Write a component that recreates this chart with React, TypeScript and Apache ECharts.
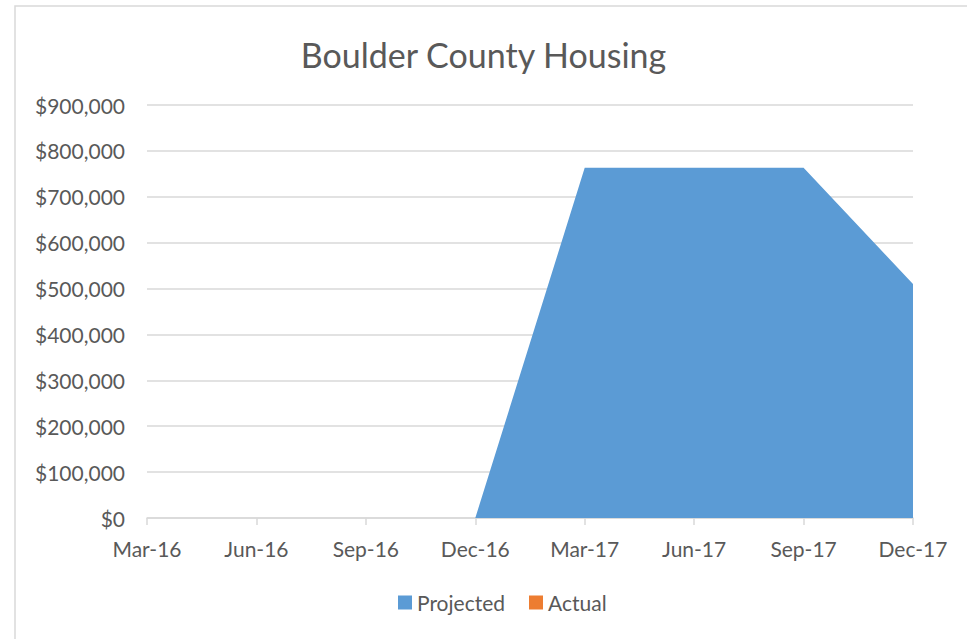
import React, { useEffect, useRef } from "react";
import * as echarts from "echarts";

const categories = ["Mar-16", "Jun-16", "Sep-16", "Dec-16", "Mar-17", "Jun-17", "Sep-17", "Dec-17"];
const projected = [0, 0, 0, 0, 763000, 763000, 763000, 510000];
const actual: (number | null)[] = [null, null, null, null, null, null, null, null];
const yTicks = { min: 0, max: 900000, interval: 100000 };

const FONT = "Lato, 'Open Sans', sans-serif";

export default function App() {
  const ref = useRef<HTMLDivElement>(null);
  useEffect(() => {
    const chart = echarts.init(ref.current!, null, { renderer: "svg" });
    chart.setOption({
      animation: false,
      backgroundColor: "#ffffff",
      textStyle: { fontFamily: FONT },
      title: {
        text: "Boulder County Housing",
        left: "center",
        top: 32,
        textStyle: { fontFamily: FONT, fontSize: 34, fontWeight: "normal", color: "#595959" },
      },
      legend: {
        left: 393,
        top: 587,
        itemWidth: 14,
        itemHeight: 14,
        itemGap: 24,
        icon: "rect",
        textStyle: { fontFamily: FONT, fontSize: 21, color: "#595959" },
        data: ["Projected", "Actual"],
      },
      grid: { left: 147, right: 54, top: 105, bottom: 121, containLabel: false },
      xAxis: {
        type: "category",
        data: categories,
        boundaryGap: false,
        axisLine: { show: true, lineStyle: { color: "#d9d9d9", width: 1.5 } },
        axisTick: { show: true, length: 7, lineStyle: { color: "#d9d9d9", width: 1.5 } },
        axisLabel: { fontFamily: FONT, fontSize: 21, color: "#595959", margin: 20 },
        splitLine: { show: false },
      },
      yAxis: {
        type: "value",
        min: yTicks.min,
        max: yTicks.max,
        interval: yTicks.interval,
        axisLine: { show: false },
        axisTick: { show: false },
        axisLabel: {
          fontFamily: FONT,
          fontSize: 21,
          color: "#595959",
          margin: 22,
          formatter: (v: number) => "$" + v.toLocaleString("en-US"),
        },
        splitLine: { lineStyle: { color: "#d9d9d9", width: 1.5 } },
      },
      graphic: [
        {
          type: "rect",
          shape: { x: 15, y: 6, width: 980, height: 660 },
          style: { fill: "none", stroke: "#d9d9d9", lineWidth: 1.5 },
          silent: true,
        },
      ],
      series: [
        {
          name: "Projected",
          type: "line",
          data: projected,
          symbol: "none",
          lineStyle: { width: 0 },
          itemStyle: { color: "#5b9bd5" },
          areaStyle: { color: "#5b9bd5", opacity: 1 },
        },
        {
          name: "Actual",
          type: "line",
          data: actual,
          symbol: "none",
          lineStyle: { width: 0 },
          itemStyle: { color: "#ed7d31" },
          areaStyle: { color: "#ed7d31", opacity: 1 },
        },
      ],
    });
    return () => chart.dispose();
  }, []);
  return <div ref={ref} style={{ position: "fixed", left: 0, top: 0, width: 967, height: 639 }} />;
}
